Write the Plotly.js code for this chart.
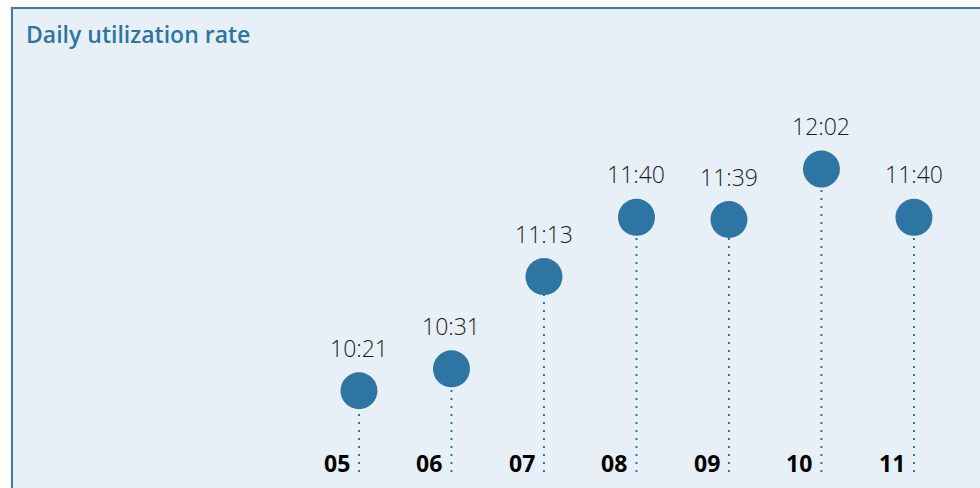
<!DOCTYPE html>
<html>
<head>
<meta charset="utf-8">
<script src="https://cdn.plot.ly/plotly-3.0.1.min.js"></script>
<style>
  html, body { margin: 0; padding: 0; background: #ffffff; width: 980px; height: 488px; overflow: hidden; }
  #panel { position: absolute; left: 11px; top: 7px; width: 969px; height: 481px; background: #e8f0f7;
           border-left: 2px solid #3a7ca8; border-top: 2px solid #3a7ca8; box-sizing: border-box; }
  #chart { position: absolute; left: 0; top: 0; width: 980px; height: 488px; }
</style>
</head>
<body>
<div id="panel"></div>
<div id="chart"></div>
<script>
// Data
const days = ["05", "06", "07", "08", "09", "10", "11"];
const timeLabels = ["10:21", "10:31", "11:13", "11:40", "11:39", "12:02", "11:40"];
const minutesOfDay = timeLabels.map(t => { const p = t.split(":"); return (+p[0]) * 60 + (+p[1]); });

const blue = "#2e75a3";
const yMin = 584, yMax = 799;
const fontFam = "'Open Sans', Lato, sans-serif";

// stems
const stemX = [], stemY = [];
days.forEach((d, i) => { stemX.push(d, d, null); stemY.push(yMin, minutesOfDay[i], null); });

const traces = [
  { x: stemX, y: stemY, type: "scatter", mode: "lines", hoverinfo: "skip",
    line: { color: blue, width: 2, dash: "2px,6px" }, connectgaps: false },
  { x: days, y: minutesOfDay, type: "scatter", mode: "markers",
    marker: { size: 37, color: blue, line: { width: 0 } } }
];

const annotations = [];
days.forEach((d, i) => {
  annotations.push({ x: i, y: minutesOfDay[i], xref: "x", yref: "y", text: timeLabels[i],
    showarrow: false, yshift: 43, xanchor: "center", yanchor: "middle",
    font: { family: fontFam, size: 23, weight: 300, color: "#1a1a1a" } });
  annotations.push({ x: i, y: yMin, xref: "x", yref: "y", text: d,
    showarrow: false, xanchor: "right", yanchor: "middle", xshift: -7, yshift: 9,
    font: { family: fontFam, size: 23, weight: 700, color: "#000000" } });
});

const layout = {
  width: 980, height: 488,
  margin: { l: 0, r: 0, t: 0, b: 16, pad: 0 },
  paper_bgcolor: "rgba(0,0,0,0)", plot_bgcolor: "rgba(0,0,0,0)",
  showlegend: false,
  title: { text: "Daily utilization rate", x: 26 / 980, xref: "paper", xanchor: "left",
           y: 1 - 35 / 488, yanchor: "middle",
           font: { family: fontFam, size: 23, weight: 600, color: "#2e75a3" } },
  xaxis: { type: "category", categoryarray: days, range: [-3.881, 6.714], showgrid: false,
           zeroline: false, showticklabels: false, showline: false, fixedrange: true },
  yaxis: { range: [yMin, yMax], showgrid: false, zeroline: false, showticklabels: false,
           showline: false, fixedrange: true },
  annotations: annotations
};

Plotly.newPlot("chart", traces, layout, { displayModeBar: false, staticPlot: true });
</script>
</body>
</html>
